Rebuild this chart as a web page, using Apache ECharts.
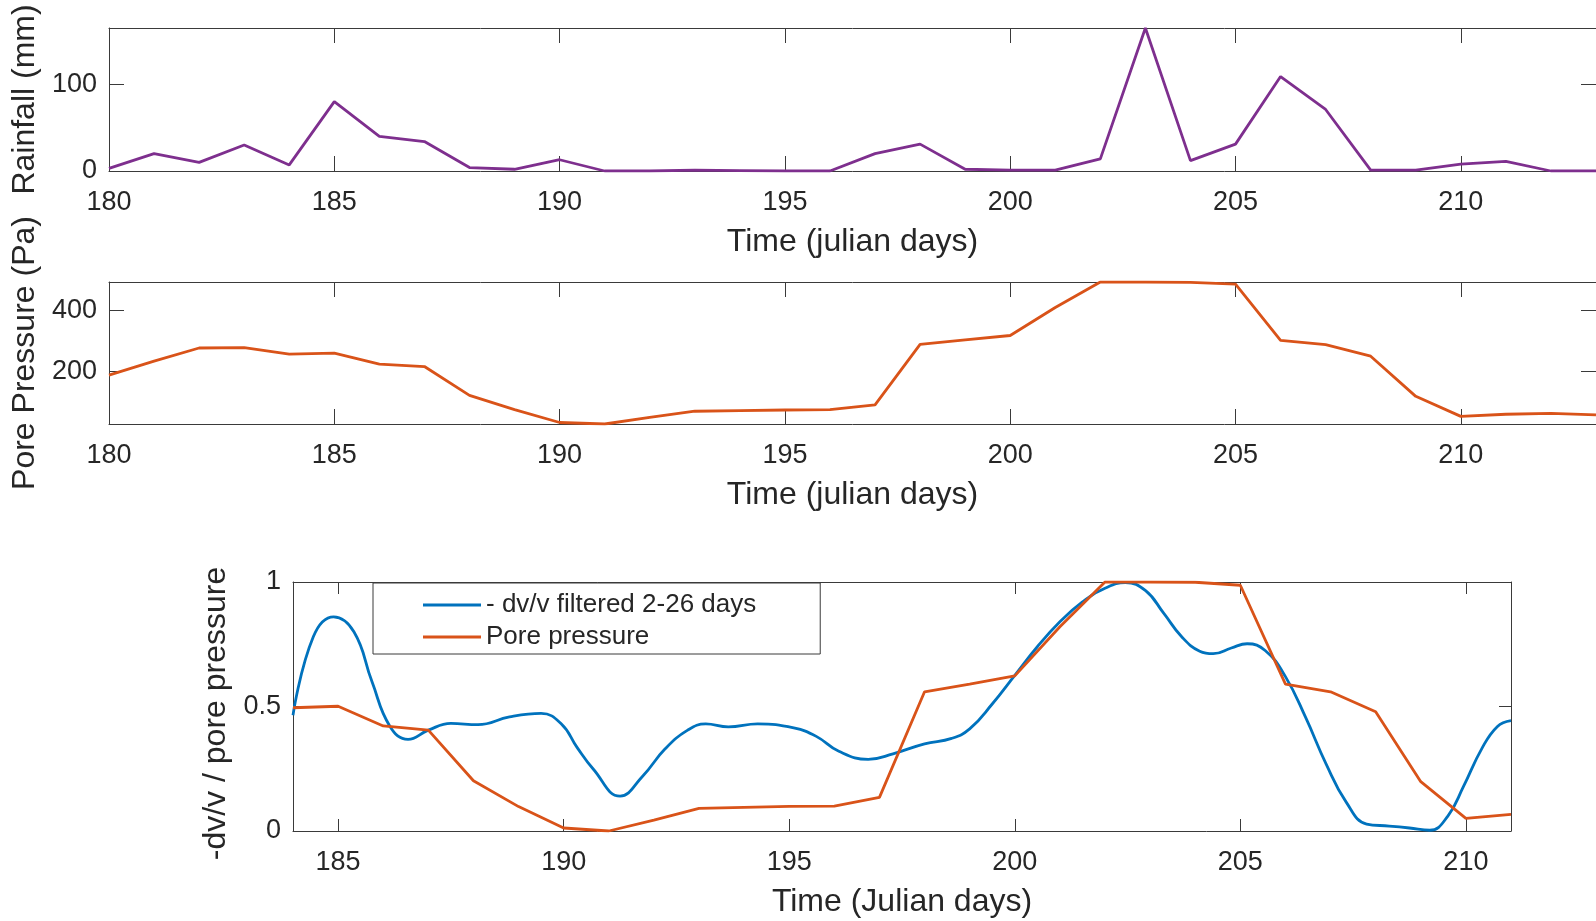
<!DOCTYPE html>
<html><head><meta charset="utf-8">
<script src="https://cdn.jsdelivr.net/npm/echarts@6/dist/echarts.min.js"></script>
<style>html,body{margin:0;padding:0;background:#fff}#c{width:1596px;height:921px}</style>
</head><body><div id="c"></div>
<script>
// ---- data ----
const days = [180,181,182,183,184,185,186,187,188,189,190,191,192,193,194,195,196,197,198,199,200,201,202,203,204,205,206,207,208,209,210,211,212,213];
const rainfall = [3,20,10,30,7,80,40,34,4,2,13,0,0,1,0.5,0,0,20,31,2,1,1,14,165,12,31,109,71,1,1,8,11,0,0];
const porePressure = [187,233,276,277,256,259,223,215,120,73,31,26,48,68,70,72,73,89,288,303,317,409,493,493,492,486,301,287,249,117,51,58,61,56];

const normDays = [184,185,186,187,188,189,190,191,192,193,194,195,196,197,198,199,200,201,202,203,204,205,206,207,208,209,210,211];
const normPore = [0.495,0.501,0.422,0.405,0.202,0.098,0.012,0,0.044,0.091,0.095,0.099,0.100,0.135,0.559,0.590,0.623,0.820,1.0,1.0,0.999,0.987,0.590,0.559,0.479,0.198,0.051,0.067];

const dvDays = [184.0,184.45,184.9,185.35,185.75,186.15,186.55,187.0,187.5,188.1,188.8,189.5,189.95,190.3,190.65,191.25,191.75,192.25,192.75,193.15,193.65,194.3,195.1,195.6,196.1,196.75,197.3,198.0,198.6,199.0,199.5,200.0,200.5,201.0,201.5,202.0,202.45,202.9,203.3,203.7,204.1,204.4,204.8,205.15,205.55,206.0,206.45,206.9,207.35,207.8,208.3,208.75,209.2,209.6,209.95,210.35,210.7,211.0];
const dvValues = [0.465,0.78,0.86,0.80,0.60,0.42,0.368,0.405,0.432,0.427,0.458,0.472,0.43,0.335,0.25,0.14,0.22,0.33,0.405,0.43,0.418,0.43,0.414,0.38,0.32,0.288,0.31,0.35,0.372,0.41,0.51,0.625,0.74,0.84,0.92,0.975,0.998,0.965,0.875,0.78,0.722,0.712,0.735,0.752,0.725,0.62,0.455,0.27,0.115,0.028,0.02,0.012,0.003,0.06,0.18,0.33,0.42,0.443];

const xTicksTop = [180,185,190,195,200,205,210];
const rainTicks = [0,100];
const poreTicks = [200,400];
const xTicksBottom = [185,190,195,200,205,210];
const normTicks = [0,0.5,1];

const xLabelTop = 'Time (julian days)';
const xLabelBottom = 'Time (Julian days)';
const rainLabel = 'Rainfall (mm)';
const poreLabel = 'Pore Pressure (Pa)';
const normLabel = '-dv/v / pore pressure';
const dvName = '- dv/v filtered 2-26 days';
const poreName = 'Pore pressure';

// ---- styling ----
const FF = '"Liberation Sans", Arial, Helvetica, sans-serif';
const TXT = '#262626';
const LINE = '#3a3a3a';
const LW = 2.8;

function xMain(g, min, max, ticks, name, tl) {
  return {type:'value', gridIndex:g, min, max, position:'bottom',
    name, nameLocation:'middle', nameGap:55,
    nameTextStyle:{fontSize:32, color:TXT, fontFamily:FF},
    axisLine:{show:true, onZero:false, lineStyle:{color:LINE, width:1}},
    axisTick:{show:true, inside:true, length:tl, customValues:ticks, lineStyle:{color:LINE, width:1}},
    axisLabel:{show:true, customValues:ticks, margin:18, fontSize:27, color:TXT, fontFamily:FF},
    splitLine:{show:false}};
}
function xTop(g, min, max, ticks, tl) {
  return {type:'value', gridIndex:g, min, max, position:'top',
    axisLine:{show:true, onZero:false, lineStyle:{color:LINE, width:1}},
    axisTick:{show:true, inside:true, length:tl, customValues:ticks, lineStyle:{color:LINE, width:1}},
    axisLabel:{show:false}, splitLine:{show:false}};
}
function yMain(g, min, max, ticks, name, tl, gap, pad) {
  return {type:'value', gridIndex:g, min, max, position:'left',
    name, nameLocation:'middle', nameGap:gap,
    nameTextStyle:{fontSize:32, color:TXT, fontFamily:FF, padding:pad},
    axisLine:{show:true, onZero:false, lineStyle:{color:LINE, width:1}},
    axisTick:{show:true, inside:true, length:tl, customValues:ticks, lineStyle:{color:LINE, width:1}},
    axisLabel:{show:true, customValues:ticks, margin:12, fontSize:27, color:TXT, fontFamily:FF},
    splitLine:{show:false}};
}
function yRight(g, min, max, ticks, tl) {
  return {type:'value', gridIndex:g, min, max, position:'right',
    axisLine:{show:true, onZero:false, lineStyle:{color:LINE, width:1}},
    axisTick:{show:true, inside:true, length:tl, customValues:ticks, lineStyle:{color:LINE, width:1}},
    axisLabel:{show:false}, splitLine:{show:false}};
}

const chart = echarts.init(document.getElementById('c'), null, {renderer:'canvas'});
chart.setOption({
  animation:false,
  backgroundColor:'#fff',
  grid:[
    {left:109, top:28, width:1488, height:143},
    {left:109, top:282, width:1488, height:142},
    {left:293, top:582, width:1218, height:249}
  ],
  xAxis:[
    xMain(0, 180, 213, xTicksTop, xLabelTop, 15),
    xTop(0, 180, 213, xTicksTop, 15),
    xMain(1, 180, 213, xTicksTop, xLabelTop, 15),
    xTop(1, 180, 213, xTicksTop, 15),
    xMain(2, 184, 211, xTicksBottom, xLabelBottom, 12),
    xTop(2, 184, 211, xTicksBottom, 12)
  ],
  yAxis:[
    yMain(0, 0, 165, rainTicks, rainLabel, 15, 63, [0,0,0,0]),
    yRight(0, 0, 165, rainTicks, 15),
    yMain(1, 26, 493, poreTicks, poreLabel, 15, 63, [0,0,0,0]),
    yRight(1, 26, 493, poreTicks, 15),
    yMain(2, 0, 1, normTicks, normLabel, 12, 55, [0,14,0,0]),
    yRight(2, 0, 1, normTicks, 12)
  ],
  legend:{
    show:true, orient:'vertical', left:373, top:583,
    data:[{name:dvName, icon:'rect'},{name:poreName, icon:'rect'}],
    itemWidth:58, itemHeight:2.8, itemGap:6,
    padding:[9,64,4,50],
    borderColor:'#3a3a3a', borderWidth:1, backgroundColor:'#fff',
    selectedMode:false,
    textStyle:{fontSize:26, color:TXT, fontFamily:FF}
  },
  series:[
    {type:'line', name:'Rainfall', xAxisIndex:0, yAxisIndex:0, showSymbol:false, symbol:'none',
      data: days.map((d,i)=>[d, rainfall[i]]), lineStyle:{color:'#7E2F8E', width:LW}, itemStyle:{color:'#7E2F8E'}},
    {type:'line', name:'Pore Pressure', xAxisIndex:2, yAxisIndex:2, showSymbol:false, symbol:'none',
      data: days.map((d,i)=>[d, porePressure[i]]), lineStyle:{color:'#D95319', width:LW}, itemStyle:{color:'#D95319'}},
    {type:'line', name:dvName, xAxisIndex:4, yAxisIndex:4, showSymbol:false, symbol:'none', smooth:0.45,
      data: dvDays.map((d,i)=>[d, dvValues[i]]), lineStyle:{color:'#0072BD', width:LW}, itemStyle:{color:'#0072BD'}},
    {type:'line', name:poreName, xAxisIndex:4, yAxisIndex:4, showSymbol:false, symbol:'none',
      data: normDays.map((d,i)=>[d, normPore[i]]), lineStyle:{color:'#D95319', width:LW}, itemStyle:{color:'#D95319'}}
  ]
});
</script>
</body></html>
